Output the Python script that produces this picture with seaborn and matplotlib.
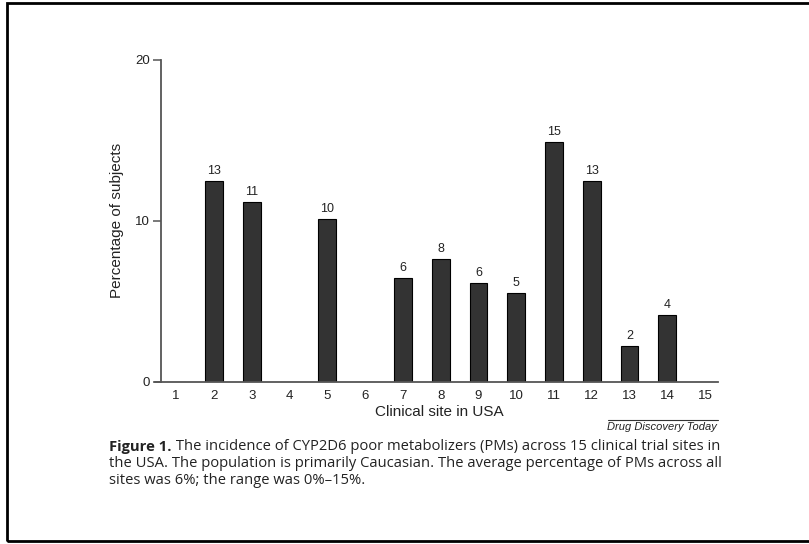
import numpy as np
import pandas as pd
import seaborn as sns
import matplotlib.pyplot as plt
from matplotlib.patches import Rectangle
from matplotlib.lines import Line2D

sites = list(range(1, 16))
pct = [0, 12.5, 11.2, 0, 10.1, 0, 6.45, 7.65, 6.15, 5.5, 14.9, 12.5, 2.25, 4.15, 0]
labels = ["", "13", "11", "", "10", "", "6", "8", "6", "5", "15", "13", "2", "4", ""]

caption_bold = "Figure 1."
caption_lines = [
    " The incidence of CYP2D6 poor metabolizers (PMs) across 15 clinical trial sites in",
    "the USA. The population is primarily Caucasian. The average percentage of PMs across all",
    "sites was 6%; the range was 0%\u201315%.",
]

sns.set_style("white")
plt.rcParams["font.family"] = ["Liberation Sans", "DejaVu Sans"]

df = pd.DataFrame({"site": sites, "pct": pct})

fig = plt.figure(figsize=(8.09, 5.44), dpi=100)
ax = fig.add_axes([0.199, 0.298, 0.6885, 0.592])

sns.barplot(data=df, x="site", y="pct", native_scale=True, width=0.47,
            color="#333333", edgecolor="black", linewidth=0.8, saturation=1, ax=ax)

for s, v, lab in zip(sites, pct, labels):
    if lab:
        ax.text(s, v + 0.25, lab, ha="center", va="bottom", fontsize=9, color="#222222")

ax.set_xlim(0.6, 15.34)
ax.set_ylim(0, 20)
ax.set_yticks([0, 10, 20])
ax.set_xticks(sites)
ax.tick_params(axis="y", length=6, width=1.1, color="#555555", labelsize=9.5, pad=2,
               left=True, labelcolor="#222222")
ax.tick_params(axis="x", length=0, labelsize=9.5, pad=6, labelcolor="#222222")
for side in ["top", "right"]:
    ax.spines[side].set_visible(False)
for side in ["left", "bottom"]:
    ax.spines[side].set_color("#555555")
    ax.spines[side].set_linewidth(1.3)
ax.spines["bottom"].set_bounds(0.44, 15.34)
ax.set_xlabel("Clinical site in USA", fontsize=11, labelpad=2, color="#222222")
ax.set_ylabel("Percentage of subjects", fontsize=11, labelpad=8, color="#222222")

# journal credit
fig.add_artist(Line2D([608 / 809, 718 / 809], [1 - 420 / 544, 1 - 420 / 544],
                      color="#333333", linewidth=0.8))
fig.text(717 / 809, 1 - 427 / 544, "Drug Discovery Today", ha="right", va="center",
         fontsize=8, style="italic", color="#222222")

# caption
cap_font = ["Open Sans", "DejaVu Sans"]
cap_size = 10.6
y0 = 1 - 447 / 544
t = fig.text(109 / 809, y0, caption_bold, fontsize=cap_size, fontweight="bold",
             family=cap_font, va="center", color="#222222")
fig.canvas.draw()
bb = t.get_window_extent()
fig.text(bb.x1 / fig.bbox.width, y0, caption_lines[0], fontsize=cap_size,
         family=cap_font, va="center", color="#222222")
for i, line in enumerate(caption_lines[1:], start=1):
    fig.text(109 / 809, y0 - i * 16.5 / 544, line, fontsize=cap_size,
             family=cap_font, va="center", color="#222222")

# outer frame
fig.add_artist(Rectangle((7 / 809, 1 - 541 / 544), 1.0, 538 / 544,
                         transform=fig.transFigure, fill=False,
                         edgecolor="black", linewidth=2))

fig.savefig("out.png", dpi=100)
